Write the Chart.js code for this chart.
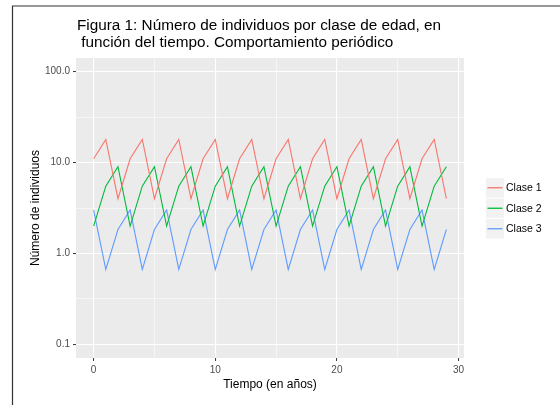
<!DOCTYPE html>
<html>
<head>
<meta charset="utf-8">
<script src="https://cdn.jsdelivr.net/npm/chart.js@4"></script>
<style>
  body { margin: 0; background: #fff; }
  #wrap { width: 560px; height: 405px; }
</style>
</head>
<body>
<div id="wrap"><canvas id="fig" width="560" height="405"></canvas></div>
<script>
// datos: tiempo (años) y numero de individuos por clase
var years = [0,1,2,3,4,5,6,7,8,9,10,11,12,13,14,15,16,17,18,19,20,21,22,23,24,25,26,27,28,29]
var clase1 = [11,18,4, 11,18,4, 11,18,4, 11,18,4, 11,18,4, 11,18,4, 11,18,4, 11,18,4, 11,18,4, 11,18,4]
var clase2 = [2,5.5,9, 2,5.5,9, 2,5.5,9, 2,5.5,9, 2,5.5,9, 2,5.5,9, 2,5.5,9, 2,5.5,9, 2,5.5,9, 2,5.5,9]
var clase3 = [3,0.667,1.833, 3,0.667,1.833, 3,0.667,1.833, 3,0.667,1.833, 3,0.667,1.833,
              3,0.667,1.833, 3,0.667,1.833, 3,0.667,1.833, 3,0.667,1.833, 3,0.667,1.833]
var seriesNames = ["Clase 1", "Clase 2", "Clase 3"]
var seriesColors = ["#F8766D", "#00BA38", "#619CFF"]

var xMajor = [0, 10, 20, 30]
var xMinor = [5, 15, 25]
var yMajor = [0.1, 1, 10, 100]
var yTickLabels = ["0.1", "1.0", "10.0", "100.0"]
var titleLines = ["Figura 1: Número de individuos por clase de edad, en", " función del tiempo. Comportamiento periódico"]

Chart.defaults.font.family = "'Liberation Sans', Arial, sans-serif"

function isMajor(list, v) {
  return list.some(m => Math.abs(m - v) < 1e-9)
}

// fondo gris del panel, titulo, marco y leyenda al estilo ggplot
const ggPlugin = {
  id: 'gg',
  beforeDraw(chart) {
    const a = chart.chartArea
    const c = chart.ctx
    c.save()
    c.fillStyle = '#EBEBEB'
    c.fillRect(a.left, a.top, a.right - a.left, a.bottom - a.top)
    c.restore()
  },
  afterDraw(chart) {
    const c = chart.ctx
    const a = chart.chartArea
    c.save()
    // marco
    c.strokeStyle = '#333'
    c.lineWidth = 1.2
    c.beginPath()
    c.moveTo(12.5, 405); c.lineTo(12.5, 6); c.lineTo(560, 6)
    c.stroke()
    // titulo
    c.fillStyle = '#000'
    c.font = "15.3px 'Liberation Sans', Arial, sans-serif"
    c.textBaseline = 'alphabetic'
    c.textAlign = 'left'
    titleLines.forEach((t, i) => c.fillText(t, a.left + 1, 30 + i * 16.5))
    // leyenda
    const lx = 486, ly = 178, kw = 18, kh = 19.5
    chart.data.datasets.forEach((ds, i) => {
      const y = ly + i * (kh + 1)
      c.fillStyle = '#F2F2F2'
      c.fillRect(lx, y, kw, kh)
      c.strokeStyle = ds.borderColor
      c.lineWidth = 1.3
      c.beginPath()
      c.moveTo(lx + 1.5, y + kh / 2); c.lineTo(lx + kw - 1.5, y + kh / 2)
      c.stroke()
      c.fillStyle = '#000'
      c.font = "10.5px 'Liberation Sans', Arial, sans-serif"
      c.textBaseline = 'middle'
      c.fillText(ds.label, lx + kw + 2, y + kh / 2 + 0.5)
    })
    c.restore()
  }
}

const ctx = document.getElementById('fig').getContext('2d')
const fig = new Chart(ctx, {
  type: 'line',
  data: {
    labels: years,
    datasets: [clase1, clase2, clase3].map((d, i) => ({
      label: seriesNames[i],
      data: years.map((x, j) => ({x: x, y: d[j]})),
      borderColor: seriesColors[i],
      backgroundColor: seriesColors[i],
      borderWidth: 1.1,
      pointRadius: 0,
      tension: 0,
      fill: false
    }))
  },
  options: {
    responsive: false,
    animation: false,
    layout: { padding: { left: 0, right: 96, top: 58, bottom: 0 } },
    plugins: {
      legend: { display: false },
      title: { display: false },
      tooltip: { enabled: false }
    },
    scales: {
      x: {
        type: 'linear',
        min: -1.45,
        max: 30.45,
        bounds: 'data',
        afterBuildTicks: s => { s.ticks = xMajor.concat(xMinor).sort((a, b) => a - b).map(v => ({value: v})) },
        afterFit: s => { s.height = 47 },
        border: { display: false },
        grid: {
          color: '#FFFFFF',
          lineWidth: c => isMajor(xMajor, c.tick.value) ? 1.1 : 0.55,
          tickColor: c => isMajor(xMajor, c.tick.value) ? '#333333' : 'rgba(0,0,0,0)',
          tickLength: 3,
          tickWidth: 1
        },
        ticks: {
          autoSkip: false,
          maxRotation: 0,
          padding: 3,
          color: '#4D4D4D',
          font: { size: 10 },
          callback: v => isMajor(xMajor, v) ? String(v) : ''
        },
        title: {
          display: true,
          text: 'Tiempo (en años)',
          color: '#000',
          font: { size: 12 },
          padding: { top: 0, bottom: 13 }
        }
      },
      y: {
        type: 'logarithmic',
        min: Math.pow(10, -1.15),
        max: Math.pow(10, 2.15),
        bounds: 'data',
        afterBuildTicks: s => {
          const t = []
          yMajor.forEach((m, i) => {
            t.push({value: m})
            if (i < yMajor.length - 1) t.push({value: Math.sqrt(m * yMajor[i + 1])})
          })
          s.ticks = t
        },
        afterFit: s => { s.width = 76 },
        border: { display: false },
        grid: {
          color: '#FFFFFF',
          lineWidth: c => isMajor(yMajor, c.tick.value) ? 1.1 : 0.55,
          tickColor: c => isMajor(yMajor, c.tick.value) ? '#333333' : 'rgba(0,0,0,0)',
          tickLength: 3,
          tickWidth: 1
        },
        ticks: {
          autoSkip: false,
          padding: 3,
          color: '#4D4D4D',
          font: { size: 10 },
          callback: v => {
            const i = yMajor.findIndex(m => Math.abs(m - v) < 1e-9)
            return i >= 0 ? yTickLabels[i] : ''
          }
        },
        title: {
          display: true,
          text: 'Número de individuos',
          color: '#000',
          font: { size: 12 },
          padding: { top: 28, bottom: 0 }
        }
      }
    }
  },
  plugins: [ggPlugin]
})
</script>
</body>
</html>
